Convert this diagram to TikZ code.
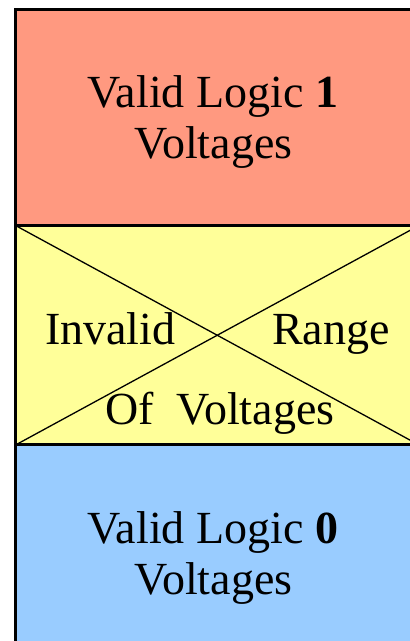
\documentclass[tikz,border=0pt]{standalone}
\usepackage{fontspec}
\setmainfont{Liberation Serif}
\definecolor{bandred}{HTML}{FF9980}
\definecolor{bandyellow}{HTML}{FFFF99}
\definecolor{bandblue}{HTML}{99CCFF}
\begin{document}
\begin{tikzpicture}[x=1pt,y=1pt,
  band/.style={draw=none,inner sep=0pt,outer sep=0pt,anchor=south west,
               minimum width=403.5pt},
  label/.style={inner sep=0pt,anchor=base,font=\fontsize{46}{51}\selectfont},
  edge/.style={line width=3pt},
  cross/.style={line width=1.3pt}]
\useasboundingbox (0,0) rectangle (410,641);
\clip (0,0) rectangle (410,641);
% three voltage bands
\node[band,fill=bandred,minimum height=216pt] (hi) at (15.5,415.5) {};
\node[band,fill=bandyellow,minimum height=219.5pt] (mid) at (15.5,196) {};
\node[band,fill=bandblue,minimum height=206pt] (lo) at (15.5,-10) {};
% crossed-out invalid band
\draw[cross] (mid.north west) -- (mid.south east);
\draw[cross] (mid.south west) -- (mid.north east);
% outline and dividers
\draw[edge] (lo.south west) -- (hi.north west) -- (hi.north east);
\draw[edge] (hi.south west) -- (hi.south east);
\draw[edge] (lo.north west) -- (lo.north east);
% labels
\node[label] (t1) at (213,533) {Valid Logic \textbf{1}};
\node[label] (t2) at (213.5,482) {Voltages};
\node[label,anchor=base west] (t3) at (45,296) {Invalid};
\node[label,anchor=base west] (t4) at (272,296) {Range};
\node[label,anchor=base west] (t5) at (105,216) {Of\ \ Voltages};
\node[label] (t6) at (213,97) {Valid Logic \textbf{0}};
\node[label] (t7) at (213.5,46) {Voltages};
\end{tikzpicture}
\end{document}
